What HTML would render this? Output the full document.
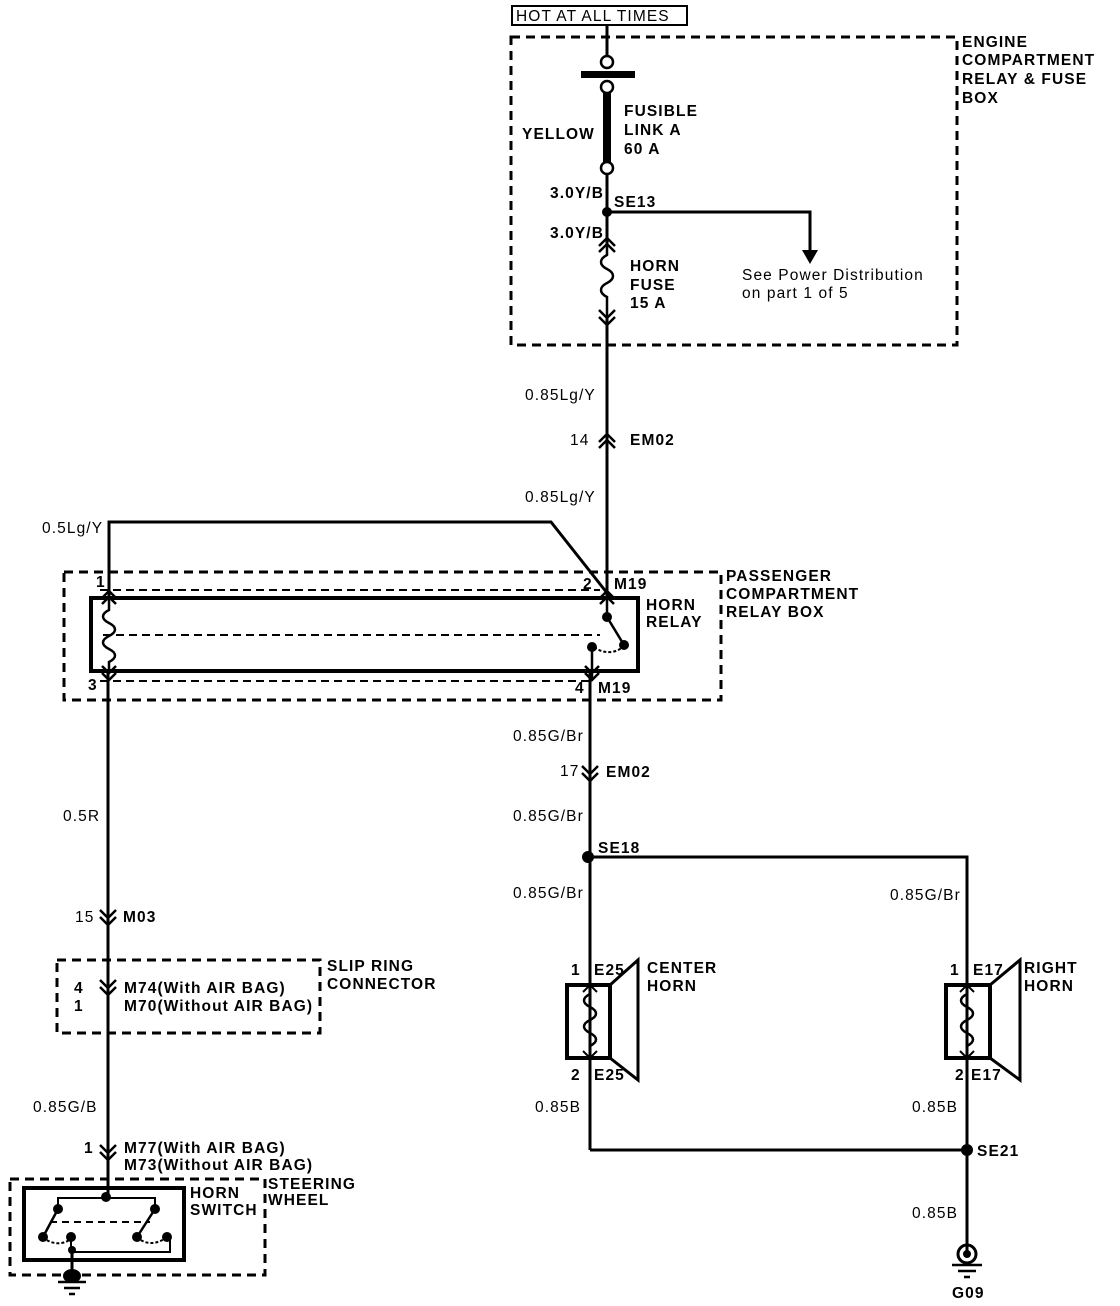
<!DOCTYPE html>
<html><head><meta charset="utf-8"><style>
html,body{margin:0;padding:0;background:#fff;}
svg{display:block;}
text{font-family:"Liberation Sans",Arial,sans-serif;font-weight:bold;font-size:15.5px;letter-spacing:1.1px;fill:#000;}
.n{font-weight:normal;}
</style></head><body>
<svg width="1120" height="1306" viewBox="0 0 1120 1306" xmlns="http://www.w3.org/2000/svg">
<g fill="none" stroke="#000">
<rect x="512" y="6" width="175" height="19" stroke-width="2"/>
<rect x="511" y="37" width="446" height="308" stroke-width="3" stroke-dasharray="9,6"/>
<line x1="607" y1="25" x2="607" y2="56" stroke-width="3"/>
<circle cx="607" cy="62" r="6" stroke-width="2.5"/>
<circle cx="607" cy="87" r="6" stroke-width="2.5"/>
<line x1="607" y1="93" x2="607" y2="162" stroke-width="8"/>
<circle cx="607" cy="168" r="6" stroke-width="2.5"/>
<line x1="607" y1="174" x2="607" y2="245" stroke-width="3"/>
<path d="M607 212 H810 V252" stroke-width="3"/>
<path d="M599 246 L607 238 L615 246 M599 252 L607 244 L615 252" stroke-width="2.5"/>
<path d="M607 246 V255 c-8 4 -8 10 0 14 c8 4 8 10 0 14 c-8 4 -8 10 0 14 V320" stroke-width="2.5"/>
<path d="M599 310 L607 318 L615 310 M599 317 L607 325 L615 317" stroke-width="2.5"/>
<line x1="607" y1="318" x2="607" y2="598" stroke-width="3"/>
<path d="M599 442 L607 434 L615 442 M599 448 L607 440 L615 448" stroke-width="2.5"/>
<path d="M109 598 V522 H551 L611 598" stroke-width="3"/>
<rect x="64" y="572" width="657" height="128" stroke-width="3" stroke-dasharray="9,6"/>
<line x1="100" y1="590" x2="600" y2="590" stroke-width="2" stroke-dasharray="8,5"/>
<line x1="100" y1="681" x2="590" y2="681" stroke-width="2" stroke-dasharray="8,5"/>
<rect x="91" y="598" width="547" height="73" stroke-width="4"/>
<line x1="103" y1="635" x2="600" y2="635" stroke-width="2" stroke-dasharray="8,5"/>
<path d="M102 598 L109 591 L116 598 M102 604 L109 597 L116 604" stroke-width="2.5"/>
<path d="M600 598 L607 591 L614 598 M600 604 L607 597 L614 604" stroke-width="2.5"/>
<path d="M109 600 V610 c-8 4 -8 9 0 13 c8 4 8 9 0 13 c-8 4 -8 9 0 13 c8 4 8 9 0 13 V672" stroke-width="2.5"/>
<path d="M102 666 L109 673 L116 666 M102 673 L109 680 L116 673" stroke-width="2.5"/>
<path d="M607 600 V617 L624 645" stroke-width="2.5"/>
<path d="M624 645 c-5 8 -20 10 -30 2" stroke-width="2" stroke-dasharray="3,2"/>
<line x1="592" y1="647" x2="592" y2="680" stroke-width="2.5"/>
<path d="M585 666 L592 673 L599 666 M585 673 L592 680 L599 673" stroke-width="2.5"/>
<line x1="108" y1="673" x2="108" y2="1196" stroke-width="3"/>
<path d="M100 910 L108 918 L116 910 M100 917 L108 925 L116 917" stroke-width="2.5"/>
<rect x="57" y="960" width="263" height="73" stroke-width="3" stroke-dasharray="9,6"/>
<path d="M100 980 L108 988 L116 980 M100 987 L108 995 L116 987" stroke-width="2.5"/>
<path d="M100 1145 L108 1153 L116 1145 M100 1152 L108 1160 L116 1152" stroke-width="2.5"/>
<rect x="10" y="1179" width="255" height="96" stroke-width="3" stroke-dasharray="9,6"/>
<rect x="24" y="1188" width="160" height="72" stroke-width="4"/>
<path d="M58 1209 V1198 H155 V1209" stroke-width="2"/>
<path d="M58 1209 L43 1237 M155 1209 L137 1237" stroke-width="2.5"/>
<line x1="50" y1="1222" x2="150" y2="1222" stroke-width="2" stroke-dasharray="7,5"/>
<path d="M43 1237 c8 8 20 8 28 2 M137 1237 c8 8 20 8 30 0" stroke-width="2" stroke-dasharray="3,2"/>
<path d="M71 1237 V1252 H170 V1237" stroke-width="2"/>
<line x1="72" y1="1252" x2="72" y2="1275" stroke-width="3"/>
<path d="M58 1282 H86 M64 1288 H80 M69 1294 H75" stroke-width="2.5"/>
<line x1="590" y1="672" x2="590" y2="1150" stroke-width="3"/>
<path d="M582 766 L590 774 L598 766 M582 773 L590 781 L598 773" stroke-width="2.5"/>
<path d="M588 857 H967 V1252" stroke-width="3"/>
<path d="M590 1150 H967" stroke-width="3"/>
<rect x="567" y="985" width="43" height="73" stroke-width="4"/>
<path d="M610 985 L638 960 V1080 L610 1058" stroke-width="3"/>
<path d="M583 992 L590 985 L597 992 M583 1051 L590 1058 L597 1051" stroke-width="2"/>
<path d="M590 994 c-8 4 -8 9 0 13 c8 4 8 9 0 13 c-8 4 -8 9 0 13 c8 4 8 9 0 13" stroke-width="2.5"/>
<rect x="946" y="985" width="44" height="73" stroke-width="4"/>
<path d="M990 985 L1020 960 V1080 L990 1058" stroke-width="3"/>
<path d="M960 992 L967 985 L974 992 M960 1051 L967 1058 L974 1051" stroke-width="2"/>
<path d="M967 994 c-8 4 -8 9 0 13 c8 4 8 9 0 13 c-8 4 -8 9 0 13 c8 4 8 9 0 13" stroke-width="2.5"/>
<circle cx="967" cy="1254" r="9" stroke-width="3"/>
<path d="M952 1265 H982 M958 1271 H976 M964 1277 H970" stroke-width="2.5"/>
</g>
<g fill="#000">
<rect x="581" y="71" width="54" height="7"/>
<path d="M802 250 H818 L810 264 Z"/>
<circle cx="607" cy="212" r="5"/>
<circle cx="607" cy="617" r="5"/>
<circle cx="624" cy="645" r="5"/>
<circle cx="592" cy="647" r="5"/>
<circle cx="588" cy="857" r="6"/>
<circle cx="967" cy="1150" r="6"/>
<circle cx="967" cy="1254" r="4"/>
<circle cx="106" cy="1197" r="5"/><circle cx="58" cy="1209" r="5"/><circle cx="155" cy="1209" r="5"/>
<circle cx="43" cy="1237" r="5"/><circle cx="71" cy="1237" r="5"/><circle cx="137" cy="1237" r="5"/><circle cx="167" cy="1237" r="5"/>
<circle cx="72" cy="1250" r="4"/>
<ellipse cx="72" cy="1276" rx="9" ry="7"/>
</g>
<text x="516" y="21" class="n">HOT AT ALL TIMES</text>
<text x="962" y="47">ENGINE</text>
<text x="962" y="65">COMPARTMENT</text>
<text x="962" y="84">RELAY &amp; FUSE</text>
<text x="962" y="103">BOX</text>
<text x="624" y="116">FUSIBLE</text>
<text x="624" y="135">LINK A</text>
<text x="624" y="154">60 A</text>
<text x="522" y="139">YELLOW</text>
<text x="550" y="198">3.0Y/B</text>
<text x="614" y="207">SE13</text>
<text x="550" y="238">3.0Y/B</text>
<text x="630" y="271">HORN</text>
<text x="630" y="290">FUSE</text>
<text x="630" y="308">15 A</text>
<text x="742" y="280" class="n">See Power Distribution</text>
<text x="742" y="298" class="n">on part 1 of 5</text>
<text x="525" y="400" class="n">0.85Lg/Y</text>
<text x="570" y="445" class="n">14</text>
<text x="630" y="445">EM02</text>
<text x="525" y="502" class="n">0.85Lg/Y</text>
<text x="42" y="533" class="n">0.5Lg/Y</text>
<text x="96" y="587">1</text>
<text x="583" y="589">2</text>
<text x="614" y="589">M19</text>
<text x="646" y="610">HORN</text>
<text x="646" y="627">RELAY</text>
<text x="726" y="581">PASSENGER</text>
<text x="726" y="599">COMPARTMENT</text>
<text x="726" y="617">RELAY BOX</text>
<text x="88" y="690">3</text>
<text x="575" y="693">4</text>
<text x="598" y="693">M19</text>
<text x="513" y="741" class="n">0.85G/Br</text>
<text x="560" y="776" class="n">17</text>
<text x="606" y="777">EM02</text>
<text x="513" y="821" class="n">0.85G/Br</text>
<text x="598" y="853">SE18</text>
<text x="513" y="898" class="n">0.85G/Br</text>
<text x="890" y="900" class="n">0.85G/Br</text>
<text x="63" y="821" class="n">0.5R</text>
<text x="75" y="922" class="n">15</text>
<text x="123" y="922">M03</text>
<text x="327" y="971">SLIP RING</text>
<text x="327" y="989">CONNECTOR</text>
<text x="74" y="993">4</text>
<text x="74" y="1011">1</text>
<text x="124" y="993">M74(With AIR BAG)</text>
<text x="124" y="1011">M70(Without AIR BAG)</text>
<text x="33" y="1112" class="n">0.85G/B</text>
<text x="84" y="1153">1</text>
<text x="124" y="1153">M77(With AIR BAG)</text>
<text x="124" y="1170">M73(Without AIR BAG)</text>
<text x="190" y="1198">HORN</text>
<text x="190" y="1215">SWITCH</text>
<text x="268" y="1189">STEERING</text>
<text x="268" y="1205">WHEEL</text>
<text x="571" y="975">1</text>
<text x="594" y="975">E25</text>
<text x="647" y="973">CENTER</text>
<text x="647" y="991">HORN</text>
<text x="571" y="1080">2</text>
<text x="594" y="1080">E25</text>
<text x="950" y="975">1</text>
<text x="973" y="975">E17</text>
<text x="1024" y="973">RIGHT</text>
<text x="1024" y="991">HORN</text>
<text x="955" y="1080">2</text>
<text x="971" y="1080">E17</text>
<text x="535" y="1112" class="n">0.85B</text>
<text x="912" y="1112" class="n">0.85B</text>
<text x="977" y="1156">SE21</text>
<text x="912" y="1218" class="n">0.85B</text>
<text x="952" y="1298">G09</text>
</svg>
</body></html>
